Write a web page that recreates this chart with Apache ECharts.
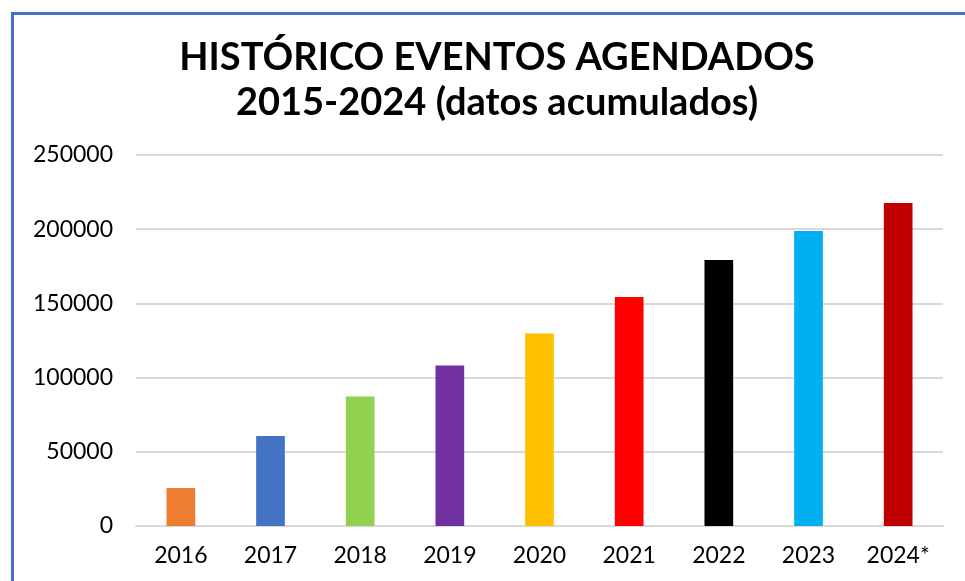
<!DOCTYPE html>
<html>
<head>
<meta charset="utf-8">
<script src="https://cdn.jsdelivr.net/npm/echarts@6/dist/echarts.min.js"></script>
<style>
  html, body { margin: 0; padding: 0; background: #fff; }
  #chart { width: 965px; height: 581px; }
</style>
</head>
<body>
<div id="chart"></div>
<script>
const years = ['2016', '2017', '2018', '2019', '2020', '2021', '2022', '2023', '2024*']
const events = [25600, 60600, 87300, 108200, 129700, 154300, 179200, 198800, 217600]
const barColors = ['#ED7D31', '#4472C4', '#92D050', '#7030A0', '#FFC000', '#FF0000', '#000000', '#00B0F0', '#C00000']

const chart = echarts.init(document.getElementById('chart'))
chart.setOption({
  animation: false,
  textStyle: {fontFamily: 'Lato'},
  title: {
    text: 'HISTÓRICO EVENTOS AGENDADOS\n2015-2024 (datos acumulados)',
    left: 492,
    top: 30,
    textAlign: 'center',
    textStyle: {fontFamily: 'Lato', fontWeight: 'bold', fontSize: 38, lineHeight: 45, color: '#000'},
  },
  graphic: [
    {type: 'polyline', shape: {points: [[12.5, 581], [12.5, 13.5], [965, 13.5]]}, style: {stroke: '#4472C4', lineWidth: 3, fill: null}},
  ],
  grid: {left: 136, right: 22, top: 155, bottom: 55},
  xAxis: {
    type: 'category',
    data: years,
    axisLine: {lineStyle: {color: '#D9D9D9', width: 2}},
    axisTick: {show: false},
    axisLabel: {color: '#000', fontSize: 23, margin: 18},
  },
  yAxis: {
    type: 'value',
    min: 0,
    max: 250000,
    interval: 50000,
    axisLine: {show: false},
    axisTick: {show: false},
    splitLine: {lineStyle: {color: '#D9D9D9', width: 2}},
    axisLabel: {color: '#000', fontSize: 23, margin: 23, formatter: (v) => String(v)},
  },
  series: [{
    type: 'bar',
    data: events.map((v, i) => ({value: v, itemStyle: {color: barColors[i]}})),
    barWidth: '32%',
  }],
})
</script>
</body>
</html>
